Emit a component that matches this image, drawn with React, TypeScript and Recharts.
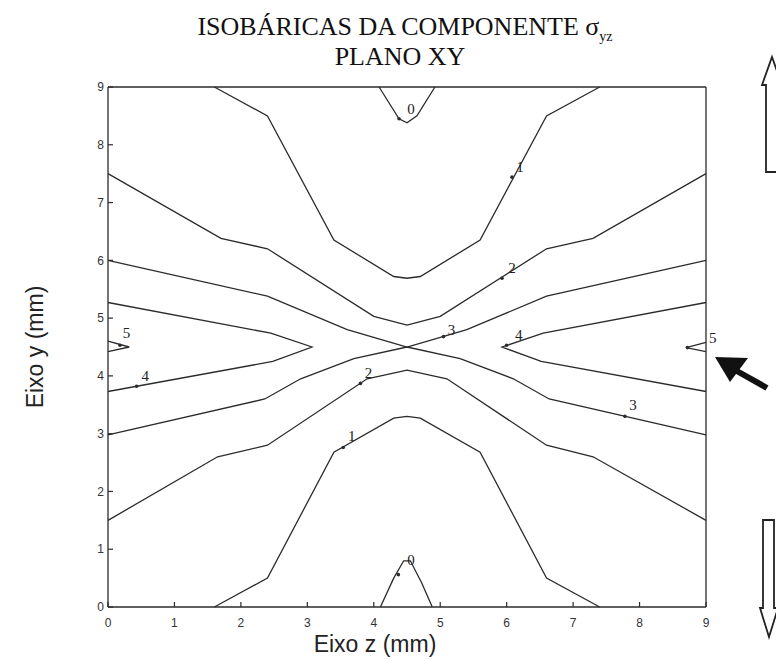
import { Scatter, ScatterChart, XAxis, YAxis } from 'recharts'

type Pt = { x: number; y: number }
type Lbl = { x: number; y: number; t: string }

const toPts = (arr: number[][]): Pt[] => arr.map(([x, y]) => ({ x, y }))

const TICKS = [0, 1, 2, 3, 4, 5, 6, 7, 8, 9]

// isobar polylines, (z, y) in mm
const CONTOUR_0_TOP = [[4.08, 9], [4.38, 8.45], [4.5, 8.38], [4.65, 8.5], [4.92, 9]]
const CONTOUR_0_BOTTOM = [[4.1, 0], [4.3, 0.5], [4.45, 0.8], [4.55, 0.8], [4.72, 0.42], [4.88, 0]]
const CONTOUR_1_TOP = [[1.6, 9], [2.4, 8.5], [3.4, 6.35], [4.3, 5.72], [4.5, 5.69], [4.7, 5.72], [5.6, 6.35], [6.6, 8.5], [7.4, 9]]
const CONTOUR_1_BOTTOM = [[1.6, 0], [2.4, 0.5], [3.4, 2.68], [4.3, 3.27], [4.5, 3.3], [4.7, 3.27], [5.6, 2.68], [6.6, 0.5], [7.4, 0]]
const CONTOUR_2_TOP = [[0, 7.5], [1.7, 6.38], [2.4, 6.2], [4.0, 5.03], [4.5, 4.88], [5.0, 5.03], [6.6, 6.2], [7.3, 6.38], [9, 7.5]]
const CONTOUR_2_BOTTOM = [[0, 1.5], [1.65, 2.6], [2.4, 2.8], [3.9, 3.95], [4.5, 4.1], [5.1, 3.95], [6.6, 2.8], [7.3, 2.6], [9, 1.5]]
const CONTOUR_3_A = [[0, 6.0], [2.4, 5.38], [3.6, 4.8], [4.5, 4.5], [5.3, 4.3], [6.1, 3.95], [6.64, 3.6], [9, 2.98]]
const CONTOUR_3_B = [[0, 2.98], [2.36, 3.6], [2.9, 3.95], [3.7, 4.3], [4.5, 4.5], [5.4, 4.8], [6.6, 5.38], [9, 6.0]]
const CONTOUR_4_LEFT = [[0, 5.27], [2.45, 4.74], [3.07, 4.5], [2.48, 4.25], [0, 3.73]]
const CONTOUR_4_RIGHT = [[9, 5.27], [6.55, 4.74], [5.93, 4.5], [6.52, 4.25], [9, 3.73]]
const CONTOUR_5_LEFT = [[0, 4.6], [0.32, 4.5], [0, 4.42]]
const CONTOUR_5_RIGHT = [[9, 4.58], [8.7, 4.49], [9, 4.42]]

const CONTOURS = [
  CONTOUR_0_TOP, CONTOUR_0_BOTTOM, CONTOUR_1_TOP, CONTOUR_1_BOTTOM,
  CONTOUR_2_TOP, CONTOUR_2_BOTTOM, CONTOUR_3_A, CONTOUR_3_B,
  CONTOUR_4_LEFT, CONTOUR_4_RIGHT, CONTOUR_5_LEFT, CONTOUR_5_RIGHT,
]

// clabel text and the '+' markers that go with it
const LABEL_VALUES = ['0', '1', '2', '3', '4', '5', '4', '2', '1', '3', '0']
const LABEL_POS = [
  [4.56, 8.62], [6.2, 7.62], [6.08, 5.87], [5.17, 4.8], [6.18, 4.72],
  [0.28, 4.74], [0.56, 4.0], [3.92, 4.06], [3.67, 2.96], [7.9, 3.5], [4.56, 0.82],
]
const MARKER_POS = [
  [4.38, 8.45], [6.08, 7.44], [5.93, 5.69], [5.05, 4.68], [6.0, 4.53],
  [0.18, 4.53], [0.43, 3.82], [3.8, 3.87], [3.54, 2.76], [7.78, 3.3], [4.37, 0.56], [8.72, 4.49],
]
// the right-hand "5" sits just outside the frame
const EDGE_LABEL: Lbl[] = [{ x: 9, y: 4.6, t: '5' }]

const LABELS: Lbl[] = LABEL_VALUES.map((t, i) => ({ x: LABEL_POS[i][0], y: LABEL_POS[i][1], t }))
const MARKERS = toPts(MARKER_POS)

const INK = '#2b2b2b'
const SANS = 'Liberation Sans, Arial, sans-serif'
const SERIF = 'Liberation Serif, Times New Roman, serif'
const TICK_LEN = 5

// matlab-style ticks: short marks pointing into the box, numbers outside
const BottomTick = (p: any) => (
  <g>
    <line x1={p.x} y1={p.y} x2={p.x} y2={p.y - TICK_LEN} stroke={INK} strokeWidth={1.2} />
    <text x={p.x} y={p.y + 16} dy="0.35em" textAnchor="middle" fontSize={12} fontFamily={SANS} fill="#333">
      {p.payload.value}
    </text>
  </g>
)
const LeftTick = (p: any) => (
  <g>
    <line x1={p.x} y1={p.y} x2={p.x + TICK_LEN} y2={p.y} stroke={INK} strokeWidth={1.2} />
    <text x={p.x - 4} y={p.y} dy="0.35em" textAnchor="end" fontSize={12} fontFamily={SANS} fill="#333">
      {p.payload.value}
    </text>
  </g>
)
const TopTick = (p: any) => <line x1={p.x} y1={p.y} x2={p.x} y2={p.y + TICK_LEN} stroke={INK} strokeWidth={1.2} />
const RightTick = (p: any) => <line x1={p.x} y1={p.y} x2={p.x - TICK_LEN} y2={p.y} stroke={INK} strokeWidth={1.2} />

const noDot = () => <g />

export default function App() {
  return (
    <div style={{ position: 'absolute', left: 0, top: 0, width: 776, height: 660, background: '#fff', overflow: 'hidden' }}>
      <ScatterChart width={776} height={660} margin={{ top: 86, right: 69, bottom: 8, left: 78 }}>
        <XAxis
          type="number"
          dataKey="x"
          domain={[0, 9]}
          ticks={TICKS}
          interval={0}
          height={45}
          tickSize={0}
          tickMargin={0}
          tickLine={false}
          stroke={INK}
          strokeWidth={1.3}
          tick={BottomTick}
        />
        <XAxis
          xAxisId="top"
          orientation="top"
          type="number"
          dataKey="x"
          domain={[0, 9]}
          ticks={TICKS}
          interval={0}
          height={1}
          tickSize={0}
          tickMargin={0}
          tickLine={false}
          tick={TopTick}
          stroke={INK}
          strokeWidth={1.3}
        />
        <YAxis
          type="number"
          dataKey="y"
          domain={[0, 9]}
          ticks={TICKS}
          interval={0}
          width={30}
          tickSize={0}
          tickMargin={0}
          tickLine={false}
          stroke={INK}
          strokeWidth={1.3}
          tick={LeftTick}
        />
        <YAxis
          yAxisId="right"
          orientation="right"
          type="number"
          dataKey="y"
          domain={[0, 9]}
          ticks={TICKS}
          interval={0}
          width={1}
          tickSize={0}
          tickMargin={0}
          tickLine={false}
          tick={RightTick}
          stroke={INK}
          strokeWidth={1.3}
        />
        {CONTOURS.map((c, i) => (
          <Scatter
            key={`c-${i}`}
            data={toPts(c)}
            line={{ stroke: INK, strokeWidth: 1.3 }}
            lineJointType="linear"
            shape={noDot}
            isAnimationActive={false}
          />
        ))}
        <Scatter
          data={MARKERS}
          fill={INK}
          shape={(p: any) => <circle cx={p.cx} cy={p.cy} r={1.8} fill={INK} />}
          isAnimationActive={false}
        />
        <Scatter
          data={LABELS}
          shape={(p: any) => (
            <text x={p.cx} y={p.cy} dy="0.35em" textAnchor="middle" fontSize={15} fontFamily={SERIF} fill="#222">
              {p.payload.t}
            </text>
          )}
          isAnimationActive={false}
        />
        <Scatter
          data={EDGE_LABEL}
          shape={(p: any) => (
            <text x={p.cx + 3} y={p.cy} dy="0.1em" textAnchor="start" fontSize={15} fontFamily={SERIF} fill="#222">
              {p.payload.t}
            </text>
          )}
          isAnimationActive={false}
        />
      </ScatterChart>

      <svg width={776} height={660} style={{ position: 'absolute', left: 0, top: 0, pointerEvents: 'none' }}>
        <text x={405} y={35} textAnchor="middle" fontSize={26} fontFamily={SERIF} fill="#111">
          ISOBÁRICAS DA COMPONENTE σ
          <tspan fontSize={14} dy={6}>yz</tspan>
        </text>
        <text x={400} y={65} textAnchor="middle" fontSize={26} fontFamily={SERIF} fill="#111">
          PLANO XY
        </text>
        <text
          x={35}
          y={347}
          transform="rotate(-90 35 347)"
          textAnchor="middle"
          dy="0.35em"
          fontSize={23}
          fontFamily={SANS}
          fill="#222"
        >
          Eixo y (mm)
        </text>
        <text x={375} y={652} textAnchor="middle" fontSize={23} fontFamily={SANS} fill="#222">
          Eixo z (mm)
        </text>

        {/* load arrows beside the frame */}
        <path d="M772 57 L782 85 L778 85 L778 172 L766 172 L766 85 L762 85 Z" fill="none" stroke="#222" strokeWidth={1.8} />
        <path d="M763 520 L774 520 L774 608 L778 608 L769 637 L760 608 L763 608 Z" fill="none" stroke="#222" strokeWidth={1.8} />
        <polygon points="715,357 748,358 730,382" fill="#111" />
        <line x1={735} y1={370} x2={767} y2={388} stroke="#111" strokeWidth={6} />
      </svg>
    </div>
  )
}
